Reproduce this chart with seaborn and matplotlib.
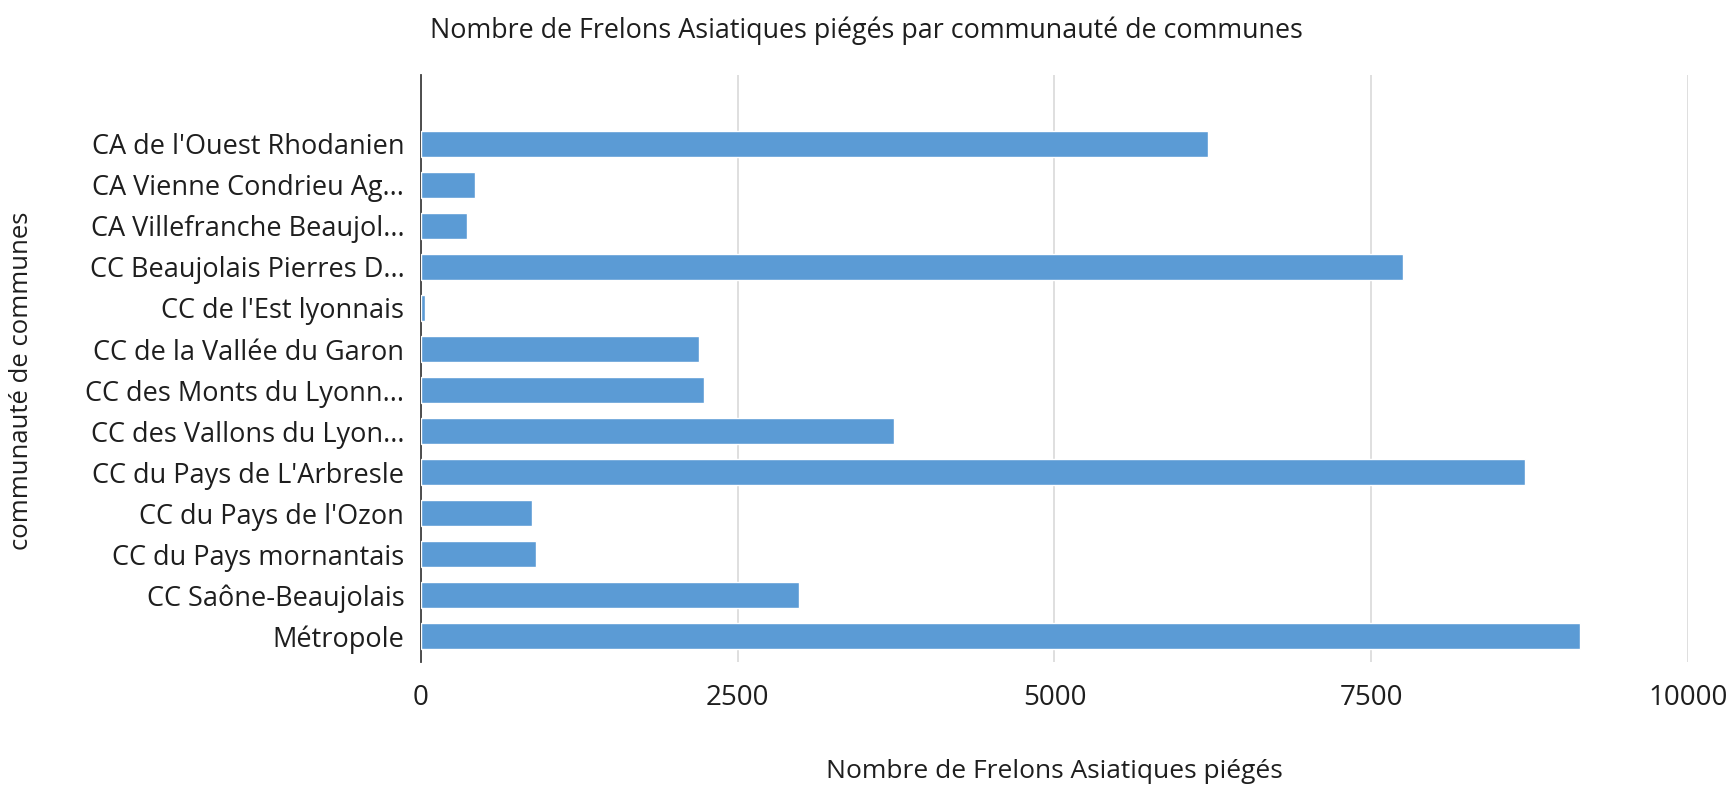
import pandas as pd
import seaborn as sns
import matplotlib.pyplot as plt

communautes = [
    "CA de l'Ouest Rhodanien",
    "CA Vienne Condrieu Ag...",
    "CA Villefranche Beaujol...",
    "CC Beaujolais Pierres D...",
    "CC de l'Est lyonnais",
    "CC de la Vallée du Garon",
    "CC des Monts du Lyonn...",
    "CC des Vallons du Lyon...",
    "CC du Pays de L'Arbresle",
    "CC du Pays de l'Ozon",
    "CC du Pays mornantais",
    "CC Saône-Beaujolais",
    "Métropole",
]
frelons = [6210, 425, 362, 7750, 35, 2195, 2232, 3730, 8710, 880, 905, 2987, 9147]
x_ticks = [0, 2500, 5000, 7500, 10000]

df = pd.DataFrame({'communaute': communautes, 'frelons': frelons})

sns.set_style('white')
plt.rcParams['font.family'] = ['Open Sans', 'DejaVu Sans']
text_col = '#1e1e1e'

fig = plt.figure(figsize=(17.33, 7.9), dpi=100)
ax = fig.add_axes([421 / 1733, 1 - 662 / 790, (1688 - 421) / 1733, (662 - 75) / 790])

sns.barplot(data=df, x='frelons', y='communaute', color='#5B9BD5',
            saturation=1, width=0.63, ax=ax, zorder=3)

ax.set_xlim(0, 10000)
ax.set_ylim(12.63, -1.68)
ax.set_xticks(x_ticks)
ax.set_xticklabels([str(t) for t in x_ticks])
ax.xaxis.grid(True, color='#D9D9D9', linewidth=1.2, zorder=0)
ax.set_axisbelow(True)
for s in ['top', 'right', 'bottom']:
    ax.spines[s].set_visible(False)
ax.spines['left'].set_color('#404040')
ax.spines['left'].set_linewidth(1.3)
ax.tick_params(axis='y', length=0, labelsize=19.5, colors=text_col, pad=12)
ax.tick_params(axis='x', length=0, labelsize=20, colors=text_col, pad=16)
ax.set_xlabel('')
ax.set_ylabel('')

fig.text(0.5, 1 - 31 / 790, 'Nombre de Frelons Asiatiques piégés par communauté de communes',
         ha='center', va='center', fontsize=19.4, color=text_col)
fig.text(1054 / 1733, 1 - 772 / 790, 'Nombre de Frelons Asiatiques piégés',
         ha='center', va='center', fontsize=19, color=text_col)
fig.text(22 / 1733, 1 - 381 / 790, 'communauté de communes', rotation=90,
         ha='center', va='center', fontsize=18.5, color=text_col)

fig.savefig('out.png', dpi=100)
